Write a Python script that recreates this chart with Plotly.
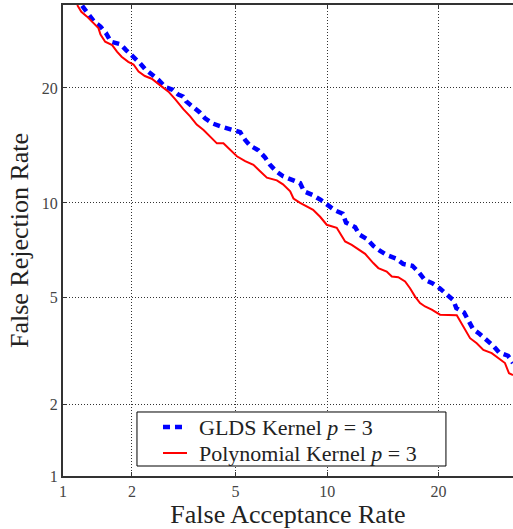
import plotly.graph_objects as go
from statistics import NormalDist

# ---- data (percent) ----
gl_far = [1.22, 1.30, 1.38, 1.47, 1.55, 1.63, 1.79, 1.89, 2.01, 2.15, 2.26, 2.41, 2.56, 2.73,
          2.92, 3.07, 3.20, 3.29, 3.49, 3.70, 3.88, 4.15, 4.47, 4.82, 5.20, 5.41, 5.63, 6.01,
          6.33, 6.58, 6.89, 7.27, 7.75, 8.24, 8.48, 9.00, 9.55, 10.0, 10.54, 11.11, 11.36,
          12.07, 12.40, 13.04, 13.57, 14.10, 14.79, 15.60, 16.30, 17.22, 17.91, 18.50, 19.31,
          20.12, 20.94, 21.64, 22.02, 22.93, 23.53, 24.02, 24.85, 25.81, 26.55, 27.33, 28.53, 29.2]
gl_frr = [29.9, 28.9, 27.8, 27.2, 26.4, 25.3, 25.0, 24.3, 23.6, 22.8, 22.1, 21.5, 20.9, 20.1,
          19.8, 19.3, 19.1, 18.6, 18.1, 17.5, 16.9, 16.4, 16.1, 15.8, 15.6, 14.9, 14.4, 14.0,
          13.4, 12.8, 12.3, 11.9, 11.6, 11.4, 10.8, 10.55, 10.2, 9.90, 9.51, 9.29, 8.74,
          8.47, 8.04, 7.78, 7.41, 7.17, 6.92, 6.76, 6.49, 6.40, 6.08, 5.75, 5.61,
          5.39, 5.16, 4.92, 4.61, 4.45, 4.13, 3.89, 3.73, 3.55, 3.38, 3.19, 3.10, 2.91]

poly_far = [1.16, 1.21, 1.28, 1.37, 1.44, 1.47, 1.54, 1.65, 1.73, 1.81, 1.93, 2.03, 2.13, 2.26,
            2.41, 2.60, 2.81, 2.99, 3.21, 3.41, 3.61, 3.83, 4.05, 4.29, 4.53, 4.79, 5.06, 5.41,
            5.78, 6.09, 6.42, 6.93, 7.26, 7.66, 7.85, 8.24, 8.65, 9.05, 9.51, 9.96, 10.67, 11.04,
            11.29, 11.80, 12.32, 12.88, 13.57, 14.01, 14.76, 15.23, 15.84, 16.50, 16.99, 17.50,
            18.01, 18.53, 19.25, 20.16, 22.07, 22.53, 23.05, 23.66, 24.48, 25.31, 26.38, 27.24,
            28.12, 28.66, 29.2]
poly_frr = [30.0, 29.1, 28.5, 27.6, 27.0, 26.2, 25.3, 24.9, 24.1, 23.5, 22.9, 22.6, 21.8, 21.3,
            21.0, 20.3, 19.6, 18.8, 17.8, 17.1, 16.3, 15.8, 15.2, 14.6, 14.6, 14.0, 13.5, 13.1,
            12.8, 12.3, 11.8, 11.6, 11.3, 10.8, 10.3, 10.0, 9.76, 9.54, 9.10, 8.61, 8.43, 7.91,
            7.65, 7.46, 7.24, 6.99, 6.53, 6.29, 6.13, 5.90, 5.87, 5.68, 5.39, 5.05,
            4.80, 4.67, 4.55, 4.37, 4.35, 4.13, 3.89, 3.60, 3.45, 3.26, 3.17, 3.04,
            2.91, 2.66, 2.62]

tick_vals = [1, 2, 5, 10, 20]
tick_text = ["1", "2", "5", "10", "20"]
x_lim = [1, 29.2]
y_lim = [1, 30.0]

series_names = ["GLDS Kernel <i>p</i> = 3", "Polynomial Kernel <i>p</i> = 3"]
series_colors = ["#0000ff", "#ff0000"]

# ---- normal-deviate (probit) scale ----
_nd = NormalDist()


def probit(p):
    return _nd.inv_cdf(p / 100.0)


FONT = "Liberation Serif"
BLUE_LINE = dict(color=series_colors[0], width=4.5, dash="7px,5px")
RED_LINE = dict(color=series_colors[1], width=2)

fig = go.Figure()
fig.add_trace(go.Scatter(
    x=[probit(v) for v in gl_far], y=[probit(v) for v in gl_frr],
    mode="lines", name=series_names[0], line=BLUE_LINE, showlegend=False,
))
fig.add_trace(go.Scatter(
    x=[probit(v) for v in poly_far], y=[probit(v) for v in poly_frr],
    mode="lines", name=series_names[1], line=RED_LINE, showlegend=False,
))

axis_common = dict(
    tickvals=[probit(v) for v in tick_vals], ticktext=tick_text,
    showgrid=True, gridcolor="#333333", gridwidth=1, griddash="1px,2px",
    zeroline=False, showline=True, linecolor="#333333", linewidth=2,
    ticks="inside", ticklen=4, tickcolor="#333333",
    tickfont=dict(family=FONT, size=16, color="#444444"),
)

fig.update_xaxes(
    range=[probit(x_lim[0]), probit(x_lim[1])], mirror="ticks",
    title=dict(text="False Acceptance Rate", font=dict(family=FONT, size=26, color="#222"), standoff=2),
    **axis_common,
)
fig.update_yaxes(
    range=[probit(y_lim[0]), probit(y_lim[1])], mirror=False,
    title=dict(text="False Rejection Rate", font=dict(family=FONT, size=26, color="#222"), standoff=6),
    **axis_common,
)

# ---- legend box (compact, like the original) ----
leg_box = dict(x0=0.1644, x1=0.851, y0=0.0212, y1=0.1359)
leg_rows = [0.1040, 0.0488]
leg_sample = [0.2222, 0.2756]
leg_text_x = 0.2971

shapes = [dict(type="rect", xref="paper", yref="paper", layer="above",
               fillcolor="white", line=dict(color="black", width=1), **leg_box)]
annotations = []
for name, row, style in zip(series_names, leg_rows, [BLUE_LINE, RED_LINE]):
    shapes.append(dict(type="line", xref="paper", yref="paper", layer="above",
                       x0=leg_sample[0], x1=leg_sample[1], y0=row, y1=row, line=style))
    annotations.append(dict(text=name, xref="paper", yref="paper", x=leg_text_x, y=row,
                            xanchor="left", yanchor="middle", showarrow=False,
                            font=dict(family=FONT, size=22, color="#222")))

fig.update_layout(
    width=513, height=529,
    margin=dict(l=63, r=0, t=5, b=53),
    plot_bgcolor="white", paper_bgcolor="white",
    font=dict(family=FONT, color="#222"),
    showlegend=False,
    shapes=shapes, annotations=annotations,
)

fig.write_html("out.html")
